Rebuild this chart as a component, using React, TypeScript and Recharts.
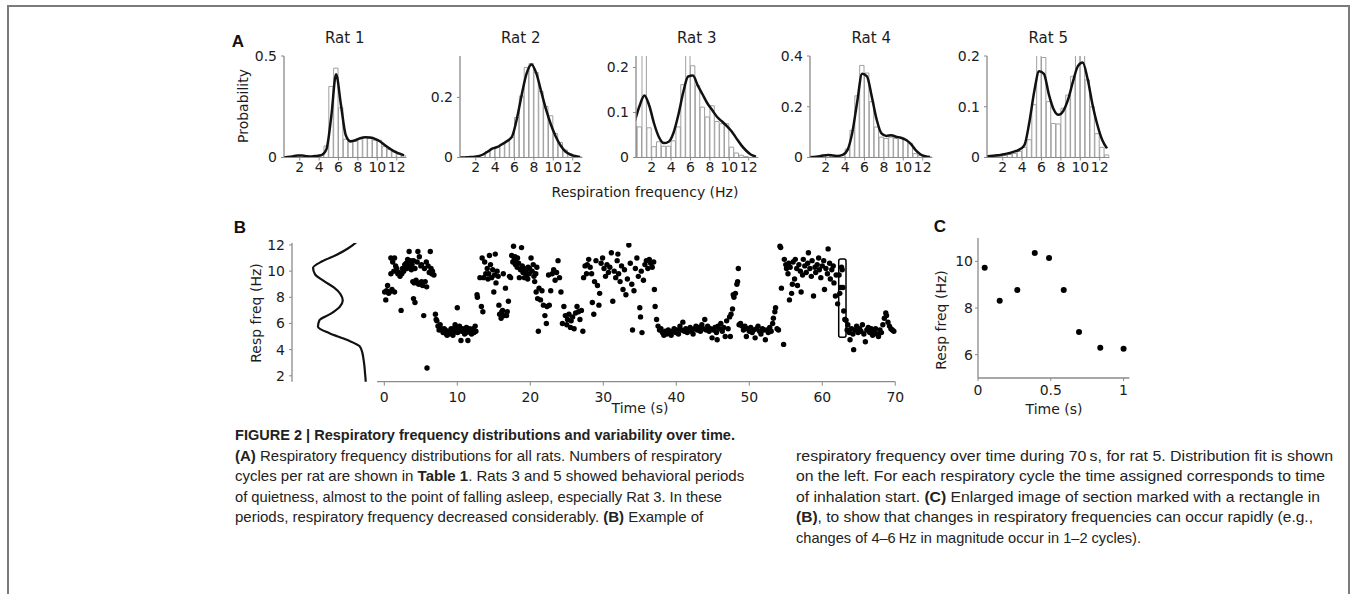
import React from 'react'
import { Bar, ComposedChart, Line, ReferenceArea, Scatter, ScatterChart, XAxis, YAxis } from 'recharts'

// ---- data ----
// histogram bin centres, 0.5 Hz wide
const binCenters = [0.25, 0.75, 1.25, 1.75, 2.25, 2.75, 3.25, 3.75, 4.25, 4.75, 5.25, 5.75, 6.25, 6.75, 7.25, 7.75, 8.25, 8.75, 9.25, 9.75, 10.25, 10.75, 11.25, 11.75, 12.25, 12.75]
const hzTicks = [2, 4, 6, 8, 10, 12]
const ratNames = ['Rat 1', 'Rat 2', 'Rat 3', 'Rat 4', 'Rat 5']

const rat1Bars = [0, 0, 0.003, 0.01, 0.01, 0.005, 0.005, 0.008, 0.015, 0.057, 0.35, 0.44, 0.245, 0.09, 0.075, 0.08, 0.095, 0.1, 0.095, 0.085, 0.085, 0.055, 0.04, 0.028, 0.015, 0.008]
const rat1Fit = [0, 0.002, 0.005, 0.01, 0.01, 0.006, 0.005, 0.008, 0.012, 0.04, 0.2, 0.41, 0.26, 0.11, 0.08, 0.085, 0.095, 0.1, 0.098, 0.092, 0.08, 0.062, 0.045, 0.03, 0.02, 0.01]

const rat2Bars = [0, 0.001, 0.002, 0.002, 0.004, 0.009, 0.02, 0.03, 0.035, 0.045, 0.055, 0.067, 0.133, 0.205, 0.3, 0.313, 0.283, 0.22, 0.17, 0.139, 0.08, 0.05, 0.025, 0.012, 0.005, 0.002]
const rat2Fit = [0, 0, 0.001, 0.002, 0.004, 0.01, 0.02, 0.03, 0.035, 0.045, 0.055, 0.07, 0.13, 0.21, 0.28, 0.31, 0.28, 0.22, 0.16, 0.11, 0.07, 0.04, 0.02, 0.01, 0.005, 0.002]

const rat3Bars = [0.07, 0.068, 0.3, 0.066, 0.024, 0.035, 0.025, 0.025, 0.037, 0.068, 0.162, 0.3, 0.204, 0.16, 0.112, 0.09, 0.115, 0.08, 0.075, 0.075, 0.023, 0.01, 0.005, 0.002, 0, 0]
const rat3Fit = [0.08, 0.115, 0.138, 0.115, 0.075, 0.045, 0.032, 0.035, 0.055, 0.095, 0.145, 0.18, 0.182, 0.16, 0.14, 0.12, 0.105, 0.09, 0.08, 0.07, 0.058, 0.042, 0.027, 0.015, 0.006, 0.002]

const rat4Bars = [0, 0.002, 0.005, 0.01, 0.01, 0.008, 0.006, 0.01, 0.033, 0.107, 0.243, 0.363, 0.333, 0.22, 0.12, 0.08, 0.075, 0.08, 0.075, 0.075, 0.07, 0.055, 0.015, 0.008, 0.004, 0.002]
const rat4Fit = [0.001, 0.002, 0.004, 0.008, 0.01, 0.008, 0.006, 0.01, 0.03, 0.1, 0.22, 0.33, 0.32, 0.24, 0.15, 0.095, 0.085, 0.088, 0.082, 0.078, 0.07, 0.055, 0.03, 0.013, 0.005, 0.002]

const rat5Bars = [0, 0.001, 0.002, 0.003, 0.004, 0.006, 0.008, 0.012, 0.02, 0.035, 0.104, 0.25, 0.197, 0.11, 0.067, 0.066, 0.097, 0.123, 0.16, 0.25, 0.25, 0.153, 0.1, 0.047, 0.02, 0.005]
const rat5Fit = [0.002, 0.003, 0.004, 0.005, 0.007, 0.009, 0.012, 0.016, 0.025, 0.07, 0.13, 0.17, 0.165, 0.125, 0.095, 0.084, 0.092, 0.115, 0.15, 0.18, 0.187, 0.155, 0.105, 0.065, 0.035, 0.018]

const ratYMax = [0.5, 0.338, 0.2256, 0.4, 0.2]
const ratYTicks = [[0, 0.5], [0, 0.2], [0, 0.1, 0.2], [0, 0.2, 0.4], [0, 0.1, 0.2]]

// panel B: [time (s), resp freq (Hz)] for rat 5
const respPoints: [number, number][] = [
  [0.05, 8.4], [0.2, 7.8], [0.3, 8.5], [0.45, 8.9], [0.6, 8.3], [0.7, 8.4], [0.9, 11.0], [0.9, 9.8], [1.05, 8.6], [1.15, 10.7],
  [1.3, 10.0], [1.4, 11.0], [1.4, 8.4], [1.55, 10.4], [1.7, 10.2], [1.85, 9.8], [2.0, 9.9], [2.15, 9.6], [2.3, 7.0], [2.4, 9.8],
  [2.5, 10.2], [2.65, 10.0], [2.8, 10.5], [2.9, 10.3], [3.0, 10.6], [3.1, 10.2], [3.2, 10.9], [3.3, 10.5], [3.4, 11.5], [3.5, 10.3],
  [3.6, 10.8], [3.7, 10.1], [3.8, 10.5], [3.9, 9.2], [4.0, 10.8], [4.0, 7.9], [4.1, 9.1], [4.2, 10.2], [4.2, 7.6], [4.35, 9.3],
  [4.5, 10.7], [4.6, 11.5], [4.7, 9.0], [4.8, 11.1], [4.9, 9.1], [5.0, 10.4], [5.1, 9.2], [5.1, 10.5], [5.25, 8.9], [5.4, 6.6],
  [5.5, 10.2], [5.6, 9.2], [5.75, 10.7], [5.8, 8.8], [5.85, 2.6], [6.0, 10.4], [6.15, 9.9], [6.3, 11.5], [6.4, 10.2], [6.5, 9.8],
  [6.6, 10.0], [6.8, 9.7], [7.0, 6.7], [7.1, 6.3], [7.2, 6.2], [7.35, 5.8], [7.5, 5.5], [7.65, 5.9], [7.8, 5.6], [7.9, 5.5],
  [8.05, 5.3], [8.2, 5.6], [8.35, 5.5], [8.5, 5.2], [8.6, 5.1], [8.75, 5.4], [8.85, 5.2], [9.0, 5.4], [9.15, 5.6], [9.3, 5.5],
  [9.4, 5.1], [9.5, 5.3], [9.65, 5.7], [9.7, 5.9], [9.85, 5.4], [10.0, 7.2], [10.05, 5.3], [10.2, 5.5], [10.3, 5.8], [10.4, 5.6],
  [10.5, 4.7], [10.6, 5.4], [10.75, 5.6], [10.9, 5.4], [11.0, 5.2], [11.1, 5.5], [11.25, 5.7], [11.3, 5.3], [11.45, 4.7], [11.55, 5.4],
  [11.7, 5.6], [11.8, 5.5], [11.95, 5.2], [12.05, 5.4], [12.2, 5.6], [12.3, 5.3], [12.45, 5.8], [12.55, 5.4], [12.7, 8.2], [12.75, 8.0],
  [13.1, 9.5], [13.3, 7.3], [13.4, 11.0], [13.5, 6.9], [13.6, 9.5], [13.75, 10.7], [13.9, 9.8], [14.1, 10.2], [14.2, 9.4], [14.3, 9.8],
  [14.4, 11.2], [14.55, 10.5], [14.7, 9.5], [14.85, 10.1], [15.0, 8.4], [15.1, 9.7], [15.2, 11.3], [15.3, 9.1], [15.45, 10.0], [15.6, 9.6],
  [15.7, 7.4], [15.8, 6.7], [16.0, 6.4], [16.1, 6.9], [16.2, 7.0], [16.3, 9.8], [16.45, 6.6], [16.6, 8.7], [16.75, 6.6], [16.85, 6.9],
  [17.0, 7.7], [17.15, 9.6], [17.3, 9.5], [17.45, 11.2], [17.6, 10.7], [17.7, 11.9], [17.8, 10.9], [17.9, 11.1], [17.95, 10.5], [18.05, 10.7],
  [18.2, 10.3], [18.25, 11.0], [18.4, 10.6], [18.5, 9.5], [18.65, 10.1], [18.8, 11.8], [18.9, 10.4], [19.0, 9.9], [19.15, 10.2], [19.2, 9.5],
  [19.35, 10.0], [19.5, 9.7], [19.65, 9.4], [19.7, 10.3], [19.85, 9.8], [19.9, 10.2], [20.1, 11.0], [20.25, 10.0], [20.4, 10.5], [20.5, 9.6],
  [20.6, 9.2], [20.75, 9.8], [20.8, 8.4], [20.9, 10.3], [21.0, 7.9], [21.1, 5.4], [21.2, 8.7], [21.4, 7.8], [21.6, 8.5], [21.8, 7.4],
  [22.0, 6.6], [22.2, 6.0], [22.3, 7.3], [22.5, 9.7], [22.6, 7.4], [22.8, 8.5], [23.0, 9.8], [23.2, 10.1], [23.4, 9.3], [23.6, 9.9],
  [23.8, 10.8], [24.0, 9.5], [24.2, 8.4], [24.4, 6.0], [24.6, 7.3], [24.8, 6.6], [25.0, 5.9], [25.1, 6.3], [25.3, 6.7], [25.5, 5.7],
  [25.6, 6.2], [25.8, 6.5], [26.0, 5.6], [26.2, 6.8], [26.4, 7.3], [26.6, 6.9], [26.8, 6.3], [27.0, 7.0], [27.2, 5.4], [27.3, 9.5],
  [27.5, 10.4], [27.7, 9.8], [27.8, 10.5], [28.0, 10.9], [28.2, 10.3], [28.4, 9.8], [28.5, 7.6], [28.7, 6.7], [28.8, 9.2], [29.0, 10.8],
  [29.2, 8.9], [29.4, 7.4], [29.5, 8.3], [29.7, 10.6], [29.9, 11.0], [30.1, 10.2], [30.3, 9.6], [30.5, 10.5], [30.7, 9.9], [30.9, 10.3],
  [31.1, 11.4], [31.3, 7.7], [31.5, 10.0], [31.7, 9.5], [31.9, 10.8], [32.0, 11.3], [32.1, 9.8], [32.3, 9.2], [32.5, 10.4], [32.7, 8.6],
  [32.9, 10.1], [33.1, 8.2], [33.3, 9.4], [33.5, 12.0], [33.7, 10.6], [33.9, 9.0], [34.0, 5.5], [34.2, 8.5], [34.4, 10.2], [34.6, 11.0],
  [34.8, 9.6], [35.0, 7.2], [35.1, 6.5], [35.2, 10.0], [35.3, 5.3], [35.5, 9.3], [35.7, 10.5], [35.9, 10.8], [36.1, 10.2], [36.3, 10.9],
  [36.5, 10.6], [36.7, 10.3], [36.9, 10.7], [37.0, 8.6], [37.1, 7.3], [37.3, 6.3], [37.5, 5.8], [37.7, 5.5], [37.9, 5.6], [38.1, 5.3],
  [38.3, 5.1], [38.5, 5.4], [38.7, 5.2], [38.9, 5.5], [39.1, 5.3], [39.3, 5.1], [39.5, 5.4], [39.7, 5.6], [39.9, 5.3], [40.1, 5.5],
  [40.3, 5.2], [40.5, 5.8], [40.7, 5.5], [40.9, 6.1], [41.1, 5.4], [41.3, 5.6], [41.5, 5.3], [41.7, 5.5], [41.9, 5.7], [42.1, 5.4],
  [42.3, 5.2], [42.5, 5.6], [42.7, 5.8], [42.9, 5.5], [43.1, 5.7], [43.3, 5.4], [43.5, 5.9], [43.7, 5.6], [43.9, 6.3], [44.1, 5.5],
  [44.3, 5.8], [44.5, 5.4], [44.7, 5.6], [44.9, 4.9], [45.1, 5.5], [45.3, 5.7], [45.5, 5.3], [45.6, 4.75], [45.7, 5.8], [45.9, 5.6],
  [46.1, 6.0], [46.3, 5.4], [46.5, 5.7], [46.7, 5.0], [46.9, 6.2], [47.1, 5.6], [47.3, 6.5], [47.4, 5.0], [47.5, 6.7], [47.7, 7.1],
  [47.8, 8.2], [47.9, 8.0], [48.1, 8.3], [48.3, 9.0], [48.4, 9.2], [48.5, 10.2], [48.6, 5.9], [48.8, 6.0], [49.0, 5.8], [49.2, 5.5],
  [49.4, 5.8], [49.6, 5.0], [49.8, 5.6], [50.0, 5.4], [50.2, 5.7], [50.4, 5.3], [50.6, 5.5], [50.8, 4.9], [51.0, 5.6], [51.2, 5.8],
  [51.4, 5.4], [51.6, 5.2], [51.8, 5.6], [52.0, 5.5], [52.2, 4.75], [52.4, 5.5], [52.6, 5.3], [52.8, 5.7], [53.0, 5.4], [53.2, 6.0],
  [53.3, 6.4], [53.5, 6.9], [53.6, 7.2], [53.8, 5.6], [54.0, 5.5], [54.2, 11.9], [54.3, 11.8], [54.4, 8.7], [54.7, 4.4], [54.8, 10.9],
  [55.0, 10.5], [55.1, 10.2], [55.3, 9.8], [55.4, 10.6], [55.5, 7.8], [55.6, 10.3], [55.8, 8.3], [55.9, 9.0], [56.0, 10.7], [56.2, 9.4],
  [56.3, 10.9], [56.5, 10.2], [56.6, 8.9], [56.8, 10.5], [57.0, 10.0], [57.1, 8.4], [57.3, 9.7], [57.4, 10.9], [57.6, 10.4], [57.8, 9.9],
  [58.0, 10.6], [58.1, 11.4], [58.3, 10.2], [58.5, 9.6], [58.6, 10.8], [58.8, 8.1], [59.0, 10.3], [59.1, 9.9], [59.3, 10.5], [59.5, 11.0],
  [59.6, 10.1], [59.8, 9.5], [60.0, 10.4], [60.2, 10.8], [60.3, 8.6], [60.5, 10.2], [60.7, 9.8], [60.8, 11.7], [61.0, 10.6], [61.1, 9.4],
  [61.3, 10.1], [61.5, 10.4], [61.6, 9.1], [61.8, 8.1], [61.9, 9.7], [62.1, 7.5], [62.3, 9.7], [62.4, 8.3], [62.53, 8.75], [62.64, 10.3],
  [62.73, 10.1], [62.83, 8.75], [62.94, 6.95], [63.09, 6.3], [63.25, 6.25], [63.4, 5.5], [63.5, 5.9], [63.7, 5.3], [63.8, 4.75], [64.0, 5.6],
  [64.2, 5.2], [64.3, 4.0], [64.5, 5.5], [64.7, 5.8], [64.9, 5.3], [65.1, 5.6], [65.3, 5.4], [65.5, 5.9], [65.7, 5.2], [65.9, 4.6],
  [66.1, 5.5], [66.3, 5.7], [66.5, 5.3], [66.7, 5.6], [66.9, 5.1], [67.1, 5.4], [67.3, 5.6], [67.5, 5.2], [67.7, 5.0], [67.9, 5.5],
  [68.1, 5.3], [68.3, 5.9], [68.5, 6.4], [68.7, 6.8], [68.8, 6.6], [69.0, 6.1], [69.2, 5.8], [69.4, 5.6], [69.6, 5.5], [69.8, 5.4],
]
const timeTicks = [0, 10, 20, 30, 40, 50, 60, 70]
const freqTicks = [2, 4, 6, 8, 10, 12]
// section of panel B shown enlarged in panel C
const zoomWindow = { t0: 62.25, t1: 63.25, f0: 4.95, f1: 10.93 }

// panel C
const cTime = [0.046, 0.149, 0.27, 0.39, 0.488, 0.589, 0.694, 0.84, 1.0]
const cFreq = [9.72, 8.31, 8.77, 10.36, 10.14, 8.77, 6.97, 6.3, 6.25]

// caption
type Seg = { t: string; b?: boolean }
const captionLeft: Seg[][] = [
  [{ t: 'FIGURE 2 | Respiratory frequency distributions and variability over time.', b: true }],
  [{ t: '(A)', b: true }, { t: ' Respiratory frequency distributions for all rats. Numbers of respiratory' }],
  [{ t: 'cycles per rat are shown in ' }, { t: 'Table 1', b: true }, { t: '. Rats 3 and 5 showed behavioral periods' }],
  [{ t: 'of quietness, almost to the point of falling asleep, especially Rat 3. In these' }],
  [{ t: 'periods, respiratory frequency decreased considerably. ' }, { t: '(B)', b: true }, { t: ' Example of' }],
]
const captionRight: Seg[][] = [
  [{ t: 'respiratory frequency over time during 70\u2009s, for rat 5. Distribution fit is shown' }],
  [{ t: 'on the left. For each respiratory cycle the time assigned corresponds to time' }],
  [{ t: 'of inhalation start. ' }, { t: '(C)', b: true }, { t: ' Enlarged image of section marked with a rectangle in' }],
  [{ t: '(B)', b: true }, { t: ', to show that changes in respiratory frequencies can occur rapidly (e.g.,' }],
  [{ t: 'changes of 4\u20136\u2009Hz in magnitude occur in 1\u20132 cycles).' }],
]

// ---- layout ----
const FONT = '"DejaVu Sans", Verdana, sans-serif'
const CAP_FONT = '"Liberation Sans", Arial, sans-serif'
const INK = '#1c1c1c'
const AXIS = '#8a8a8a'
const tickStyle = { fill: INK, fontSize: 14, fontFamily: FONT }

const HZ_MIN = 0.38
const HZ_MAX = 13.0
const PX_PER_HZ = 9.7
const RAT_PLOT_W = (HZ_MAX - HZ_MIN) * PX_PER_HZ
const RAT_TOP = 55.5
const RAT_PLOT_H = 101.5
const ratAxisX = [283.5, 459.5, 635.5, 810, 987]

const B_TOP = 243
const B_PLOT_H = 138.7
const B_FREQ_DOMAIN: [number, number] = [1.55, 12.15]

const ratBars = [rat1Bars, rat2Bars, rat3Bars, rat4Bars, rat5Bars]
const ratFits = [rat1Fit, rat2Fit, rat3Fit, rat4Fit, rat5Fit]

function RatHistogram({ idx }: { idx: number }) {
  const data = binCenters.map((hz, i) => ({ hz, bar: ratBars[idx][i], fit: ratFits[idx][i] }))
  const yw = 45
  return (
    <div style={{ position: 'absolute', left: ratAxisX[idx] - yw, top: RAT_TOP - 10 }}>
      <ComposedChart
        width={yw + RAT_PLOT_W + 6}
        height={10 + RAT_PLOT_H + 30}
        data={data}
        margin={{ top: 10, right: 6, bottom: 0, left: 0 }}
      >
        <XAxis
          dataKey="hz"
          type="number"
          domain={[HZ_MIN, HZ_MAX]}
          allowDataOverflow
          ticks={hzTicks}
          interval={0}
          height={30}
          tickSize={3}
          tickMargin={2}
          axisLine={{ stroke: AXIS }}
          tickLine={{ stroke: AXIS }}
          tick={tickStyle}
        />
        <YAxis
          type="number"
          domain={[0, ratYMax[idx]]}
          allowDataOverflow
          ticks={ratYTicks[idx]}
          interval={0}
          width={yw}
          tickSize={3}
          tickMargin={4}
          axisLine={{ stroke: AXIS, strokeWidth: 1.3 }}
          tickLine={{ stroke: AXIS }}
          tick={tickStyle}
          tickFormatter={(v: number) => String(v)}
        />
        <Bar dataKey="bar" barSize={0.5 * PX_PER_HZ} fill="#ffffff" stroke="#a0a0a0" strokeWidth={1} isAnimationActive={false} />
        <Line dataKey="fit" type="monotone" stroke="#111" strokeWidth={2.5} dot={false} isAnimationActive={false} />
      </ComposedChart>
    </div>
  )
}

function FitCurveB() {
  // distribution fit for rat 5, drawn sideways next to panel B
  const data = binCenters.map((hz, i) => ({ hz, fit: rat5Fit[i] }))
  const yw = 45
  const plotW = 75
  return (
    <div style={{ position: 'absolute', left: 292 - yw, top: B_TOP - 10 }}>
      <ComposedChart
        layout="vertical"
        width={yw + plotW + 2}
        height={10 + B_PLOT_H + 10}
        data={data}
        margin={{ top: 10, right: 2, bottom: 10, left: 0 }}
      >
        <XAxis type="number" hide domain={[0, 0.26]} reversed allowDataOverflow />
        <YAxis
          type="number"
          dataKey="hz"
          domain={B_FREQ_DOMAIN}
          reversed
          allowDataOverflow
          ticks={freqTicks}
          interval={0}
          width={yw}
          tickSize={3}
          tickMargin={4}
          axisLine={{ stroke: AXIS, strokeWidth: 1.3 }}
          tickLine={{ stroke: AXIS }}
          tick={tickStyle}
        />
        <Line dataKey="fit" type="monotone" stroke="#111" strokeWidth={2.2} dot={false} isAnimationActive={false} />
      </ComposedChart>
    </div>
  )
}

const dotShape = (r: number) => (p: any) => <circle cx={p.cx} cy={p.cy} r={r} fill="#000" />

function ScatterB() {
  const data = respPoints.map(([t, f]) => ({ t, f }))
  const plotW = 518.3
  return (
    <div style={{ position: 'absolute', left: 376.7 - 10, top: B_TOP - 10 }}>
      <ScatterChart width={10 + plotW + 10} height={10 + B_PLOT_H + 32} margin={{ top: 10, right: 10, bottom: 0, left: 10 }}>
        <XAxis
          type="number"
          dataKey="t"
          domain={[-1, 70]}
          ticks={timeTicks}
          interval={0}
          height={32}
          tickSize={4}
          tickMargin={6}
          axisLine={{ stroke: AXIS, strokeWidth: 1.3 }}
          tickLine={{ stroke: AXIS }}
          tick={tickStyle}
        />
        <YAxis type="number" dataKey="f" domain={B_FREQ_DOMAIN} allowDataOverflow hide />
        <ReferenceArea
          x1={zoomWindow.t0}
          x2={zoomWindow.t1}
          y1={zoomWindow.f0}
          y2={zoomWindow.f1}
          fill="none"
          fillOpacity={0}
          stroke="#000"
          strokeWidth={1.5}
          radius={2}
          ifOverflow="visible"
        />
        <Scatter data={data} shape={dotShape(2.7)} isAnimationActive={false} />
      </ScatterChart>
    </div>
  )
}

function ScatterC() {
  const data = cTime.map((t, i) => ({ t, f: cFreq[i] }))
  const yw = 45
  const plotW = 151.4
  const plotH = 140
  return (
    <div style={{ position: 'absolute', left: 978.3 - yw, top: 238.3 - 10 }}>
      <ScatterChart width={yw + plotW + 8} height={10 + plotH + 30} margin={{ top: 10, right: 8, bottom: 0, left: 0 }}>
        <XAxis
          type="number"
          dataKey="t"
          domain={[0, 1.04]}
          ticks={[0, 0.5, 1]}
          interval={0}
          height={30}
          tickSize={3}
          tickMargin={4}
          axisLine={{ stroke: AXIS, strokeWidth: 1.3 }}
          tickLine={{ stroke: AXIS }}
          tick={tickStyle}
        />
        <YAxis
          type="number"
          dataKey="f"
          domain={[5, 11]}
          ticks={[6, 8, 10]}
          interval={0}
          width={yw}
          tickSize={3}
          tickMargin={2}
          axisLine={{ stroke: AXIS, strokeWidth: 1.3 }}
          tickLine={{ stroke: AXIS }}
          tick={tickStyle}
        />
        <Scatter data={data} shape={dotShape(3)} isAnimationActive={false} />
      </ScatterChart>
    </div>
  )
}

function CaptionLine({ segs, x, y, w }: { segs: Seg[]; x: number; y: number; w?: number }) {
  const fit = w ? { textLength: w, lengthAdjust: 'spacingAndGlyphs' as const } : {}
  return (
    <text x={x} y={y} fontFamily={CAP_FONT} fontSize={15} fill="#222" {...fit}>
      {segs.map((s, i) => (
        <tspan key={i} fontWeight={s.b ? 700 : 400}>{s.t}</tspan>
      ))}
    </text>
  )
}

// measured line lengths of the caption in the figure (left lines with bold words keep their own width)
const leftWidths = [500, undefined, undefined, 487, undefined]
const rightWidths = [537, 529, 524, 517, 345]

function Overlay() {
  const rotated = (x: number, y: number, label: string) => (
    <text transform={`translate(${x},${y}) rotate(-90)`} textAnchor="middle" dy="0.35em" fontFamily={FONT} fontSize={14} fill={INK}>
      {label}
    </text>
  )
  const letter = (x: number, y: number, l: string) => (
    <text x={x} y={y} textAnchor="middle" fontFamily={CAP_FONT} fontWeight={700} fontSize={17} fill="#111">{l}</text>
  )
  return (
    <svg width={1356} height={594} style={{ position: 'absolute', left: 0, top: 0, pointerEvents: 'none' }}>
      {letter(238, 47, 'A')}
      {letter(240, 233, 'B')}
      {letter(940, 232, 'C')}
      {ratNames.map((n, i) => (
        <text key={n} x={ratAxisX[i] + RAT_PLOT_W / 2} y={43} textAnchor="middle" fontFamily={FONT} fontSize={15} fill={INK}>
          {n}
        </text>
      ))}
      {rotated(243, 106, 'Probability')}
      <text x={645} y={197} textAnchor="middle" fontFamily={FONT} fontSize={14} fill={INK}>Respiration frequency (Hz)</text>
      {rotated(256, 313, 'Resp freq (Hz)')}
      <text x={640} y={413} textAnchor="middle" fontFamily={FONT} fontSize={14} fill={INK}>Time (s)</text>
      {rotated(941.5, 320, 'Resp freq (Hz)')}
      <text x={1054} y={414} textAnchor="middle" fontFamily={FONT} fontSize={14} fill={INK}>Time (s)</text>
      {captionLeft.map((segs, i) => (
        <CaptionLine key={'l' + i} segs={segs} x={235} y={440 + i * 20.5} w={leftWidths[i]} />
      ))}
      {captionRight.map((segs, i) => (
        <CaptionLine key={'r' + i} segs={segs} x={796} y={460.5 + i * 20.5} w={rightWidths[i]} />
      ))}
    </svg>
  )
}

export default function App() {
  return (
    <div style={{ position: 'absolute', left: 0, top: 0, width: 1356, height: 594, background: '#fff', overflow: 'hidden' }}>
      <div
        style={{
          position: 'absolute',
          left: 7,
          top: 5,
          width: 1339,
          height: 620,
          borderLeft: '2px solid #7b7b7b',
          borderTop: '2px solid #7b7b7b',
          borderRight: '2px solid #7b7b7b',
        }}
      />
      {ratNames.map((n, i) => (
        <RatHistogram key={n} idx={i} />
      ))}
      <FitCurveB />
      <ScatterB />
      <ScatterC />
      <Overlay />
    </div>
  )
}
